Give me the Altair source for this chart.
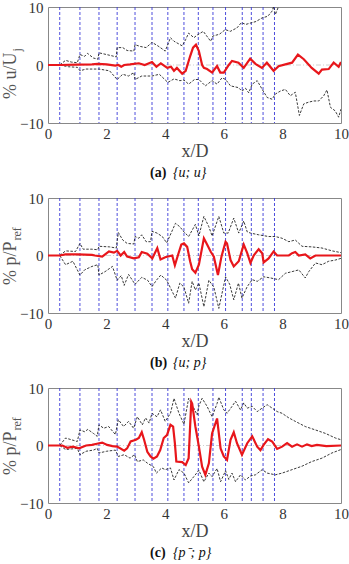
import altair as alt
import pandas as pd

SERIF = "Liberation Serif"

# vertical dashed markers (x/D)
vlines = [0.40, 1.09, 1.74, 2.36, 2.97, 3.55, 4.09, 4.64, 5.13, 5.63, 6.06, 6.63, 6.94, 7.34, 7.73]

# ---------------- panel (a) {u;u} ----------------
a_red_x = [0, 0.4, 1.0, 1.5, 1.7, 2.0, 2.3, 2.4, 2.5, 2.6, 2.8, 3.1, 3.3, 3.55, 3.7, 3.85, 4.07, 4.2, 4.3, 4.4,
           4.58, 4.7, 4.85, 4.95, 5.05, 5.15, 5.26, 5.32, 5.43, 5.6, 5.77, 5.88, 6.0, 6.17, 6.28, 6.5, 6.68, 6.9,
           7.08, 7.3, 7.47, 7.7, 7.87, 8.1, 8.33, 8.53, 8.73, 9.0, 9.24, 9.35, 9.58, 9.75, 9.92, 10.0]
a_red_y = [0, 0, 0.05, 0.1, 0.2, 0.1, -0.1, 0.0, -0.3, 0.0, 0.1, 0.3, 0.0, 0.5, -0.3, 0.3, -0.5, -0.3, -1.0, -0.5,
           -1.5, -1.0, 1.5, 3.0, 3.5, 2.4, 0.0, -0.5, -0.7, -1.3, -0.2, -1.3, -1.3, 0.0, 0.7, 0.4, -0.5, 1.1,
           0.2, -0.5, 0.4, -1.0, -0.2, 0.1, 0.4, 1.8, 1.0, -0.5, -1.5, -0.8, -0.7, 0.4, -0.3, 0.5]
a_up_x = [0, 0.4, 0.6, 0.8, 1.0, 1.09, 1.25, 1.35, 1.55, 1.7, 1.74, 2.0, 2.33, 2.36, 2.55, 2.7, 2.93, 2.97, 3.15,
          3.35, 3.55, 3.75, 4.0, 4.18, 4.3, 4.58, 4.7, 4.8, 4.98, 5.1, 5.3, 5.55, 5.63, 5.85, 6.05, 6.22, 6.45,
          6.6, 6.75, 7.1, 7.3, 7.5, 7.65, 7.7, 7.76, 7.87, 8.0]
a_up_y = [0, 0, 0.8, 0.5, 0.4, 1.8, 1.5, 2.0, 1.2, 1.0, 2.1, 1.8, 1.4, 3.0, 3.0, 2.5, 2.4, 3.5, 3.2,
          3.0, 3.9, 3.3, 2.4, 4.7, 4.1, 3.3, 4.4, 5.5, 4.7, 5.2, 5.8, 4.1, 5.0, 5.3, 6.1, 5.8, 6.4,
          7.3, 7.0, 7.5, 8.1, 8.4, 9.3, 10.1, 8.7, 10.1, 11.5]
a_lo_x = [0, 0.4, 0.7, 1.0, 1.09, 1.3, 1.7, 1.74, 2.1, 2.36, 2.55, 2.75, 2.93, 2.97, 3.2, 3.55, 3.8, 4.09, 4.3,
          4.5, 4.64, 4.8, 5.0, 5.15, 5.37, 5.6, 5.77, 5.94, 6.06, 6.23, 6.5, 6.62, 6.74, 6.85, 6.97, 7.14, 7.31,
          7.48, 7.65, 7.76, 7.93, 8.1, 8.27, 8.44, 8.58, 8.73, 8.9, 9.07, 9.24, 9.41, 9.52, 9.64, 9.8, 9.92, 10.0]
a_lo_y = [0, 0, -0.3, -0.4, -1.0, -0.7, -0.7, -0.7, -1.0, -2.5, -1.6, -1.9, -1.3, -2.5, -1.9, -1.9, -1.6, -3.0, -2.4,
          -2.7, -2.6, -3.3, -2.5, -2.5, -3.6, -2.7, -3.3, -2.2, -2.5, -3.6, -3.9, -4.5, -4.0, -4.8, -3.3, -2.7, -4.2,
          -5.6, -5.9, -5.0, -4.5, -4.2, -5.3, -4.7, -8.7, -6.7, -6.4, -6.2, -6.2, -5.3, -4.3, -7.3, -7.9, -9.0, -7.6]

# ---------------- panel (b) {u;p} ----------------
b_red_x = [0, 0.4, 0.6, 1.0, 1.5, 1.6, 1.85, 2.08, 2.25, 2.36, 2.48, 2.6, 2.7, 2.93, 3.1, 3.2, 3.39, 3.56, 3.73,
           3.84, 4.0, 4.24, 4.33, 4.45, 4.55, 4.64, 4.75, 4.85, 4.92, 5.03, 5.15, 5.32, 5.43, 5.55, 5.66, 5.8,
           5.92, 6.06, 6.11, 6.23, 6.34, 6.51, 6.68, 6.8, 6.91, 7.02, 7.19, 7.31, 7.36, 7.53, 7.7, 7.82, 7.99,
           8.22, 8.33, 8.44, 8.56, 8.78, 8.95, 9.13, 9.47, 10.0]
b_red_y = [0, 0, 0.2, 0.2, 0.1, 0.0, -0.2, 0.7, 0.5, 0.8, 0.0, 0.6, -0.2, -0.5, -0.3, 0.6, 0.3, -0.5, 1.3,
           -0.7, -0.3, 0.0, -1.7, 0.3, 1.9, 2.1, 1.5, -1.0, -2.4, -3.0, -1.6, 3.0, 1.9, 0.7, -0.2, -3.4,
           -0.2, 2.4, 2.1, -0.8, -1.9, -1.0, 1.9, 0.4, -1.3, 0.0, 1.1, 0.4, -1.2, -0.5, 0.7, 0.0, 0.0,
           0.0, 0.4, 0.6, 0.0, 0.2, -0.5, 0.0, 0.0, 0.0]
b_up_x = [0, 0.4, 0.6, 0.94, 1.09, 1.2, 1.5, 1.7, 1.74, 2.1, 2.33, 2.4, 2.55, 2.7, 2.93, 2.97, 3.1, 3.2, 3.35,
          3.5, 3.55, 3.72, 3.9, 4.05, 4.15, 4.35, 4.5, 4.64, 4.8, 5.03, 5.15, 5.32, 5.49, 5.6, 5.83, 6.0, 6.15,
          6.34, 6.51, 6.68, 6.8, 6.91, 7.19, 7.53, 7.76, 7.99, 8.22, 8.44, 8.67, 9.0, 9.35, 9.7, 10.0]
b_up_y = [0, 0, 0.8, 0.7, 2.1, 1.1, 1.1, 1.0, 1.6, 1.5, 1.3, 4.0, 2.7, 2.1, 2.0, 3.3, 3.0, 3.6, 2.4,
          2.4, 4.2, 3.9, 3.3, 2.2, 3.3, 5.6, 5.0, 4.1, 3.3, 5.4, 3.4, 6.8, 5.0, 3.4, 6.8, 3.9, 3.9,
          6.5, 3.9, 6.0, 4.1, 3.9, 3.6, 3.3, 3.3, 3.0, 2.4, 2.7, 1.6, 1.5, 1.3, 0.8, 0.5]
b_lo_x = [0, 0.4, 0.6, 0.85, 1.09, 1.25, 1.5, 1.7, 1.74, 1.95, 2.2, 2.36, 2.5, 2.6, 2.75, 2.97, 3.2, 3.4, 3.55,
          3.7, 3.85, 4.05, 4.35, 4.5, 4.64, 4.8, 4.92, 5.03, 5.15, 5.32, 5.49, 5.66, 5.83, 6.06, 6.2, 6.34,
          6.5, 6.62, 6.8, 6.97, 7.14, 7.36, 7.59, 7.87, 8.1, 8.33, 8.56, 8.78, 8.9, 9.13, 9.35, 9.58, 9.8, 10.0]
b_lo_y = [0, 0, -1.6, -1.0, -3.4, -2.5, -1.9, -1.6, -3.4, -2.8, -1.9, -4.3, -3.5, -5.2, -3.3, -5.0, -3.8, -4.3, -5.4,
          -4.3, -3.4, -4.3, -7.4, -4.8, -5.5, -8.3, -4.5, -6.0, -4.8, -8.9, -4.3, -5.5, -9.2, -3.7, -5.0, -7.7,
          -4.8, -7.4, -5.4, -4.2, -4.5, -3.7, -3.9, -4.2, -3.1, -2.8, -2.5, -3.9, -2.8, -1.3, -1.6, -1.0, -0.8, -0.5]

# ---------------- panel (c) {p-;p} ----------------
c_red_x = [0, 0.49, 0.66, 0.85, 1.06, 1.3, 1.5, 1.67, 1.85, 2.02, 2.2, 2.36, 2.6, 2.7, 2.82, 3.0, 3.1, 3.2, 3.28,
           3.39, 3.5, 3.6, 3.72, 3.83, 3.95, 4.06, 4.18, 4.27, 4.33, 4.38, 4.58, 4.7, 4.8, 4.89, 4.92, 5.03,
           5.15, 5.26, 5.37, 5.49, 5.6, 5.77, 5.89, 6.0, 6.11, 6.23, 6.34, 6.45, 6.62, 6.8, 6.97, 7.14, 7.25,
           7.36, 7.51, 7.65, 7.82, 7.99, 8.16, 8.33, 8.5, 8.67, 8.84, 9.0, 9.18, 9.5, 10.0]
c_red_y = [0, 0, -0.4, -0.2, -0.5, 0.0, 0.1, 0.3, 0.5, 0.1, -0.1, -0.2, -0.9, -0.5, 0.7, 1.0, 1.3, 2.3, 1.0,
           -1.1, -1.9, -2.3, -1.9, -0.8, 1.3, 1.8, 3.6, 3.3, 0.4, -2.8, -2.9, -3.4, -2.2, 7.6, 7.3, 3.3,
           -0.2, -3.7, -5.1, -3.1, 2.1, 4.7, -0.5, -1.9, -2.5, 1.0, 2.3, 0.4, -1.6, 0.4, 1.6, -0.2, -0.8,
           0.1, 1.1, 0.7, -0.6, -0.2, 0.4, -0.2, 0.2, -0.2, 0.2, -0.1, 0.1, -0.1, 0.0]
c_up_x = [0, 0.4, 0.6, 0.8, 1.0, 1.09, 1.25, 1.36, 1.55, 1.68, 1.74, 1.9, 2.07, 2.3, 2.4, 2.58, 2.75, 2.92, 3.05,
          3.22, 3.33, 3.45, 3.55, 3.72, 3.84, 4.0, 4.18, 4.3, 4.47, 4.64, 4.8, 4.98, 5.09, 5.15, 5.26, 5.43,
          5.6, 5.77, 5.83, 6.0, 6.11, 6.28, 6.4, 6.57, 6.68, 6.8, 6.97, 7.14, 7.31, 7.48, 7.65, 7.82, 7.99,
          8.22, 8.44, 8.78, 9.13, 9.47, 9.81, 10.0]
c_up_y = [0, 0, 1.3, 1.0, 0.7, 2.7, 2.4, 2.8, 2.1, 1.6, 3.6, 3.0, 3.3, 1.9, 4.5, 3.3, 4.2, 3.0, 5.0,
          3.6, 4.8, 3.9, 5.6, 5.0, 6.2, 4.2, 5.6, 8.2, 5.6, 3.7, 8.2, 6.5, 5.3, 6.9, 8.2, 6.8,
          5.0, 7.3, 8.4, 6.2, 5.6, 6.8, 7.7, 6.2, 7.4, 6.5, 6.8, 5.9, 6.5, 7.1, 6.5, 5.9, 5.6,
          4.8, 4.2, 3.3, 2.7, 2.1, 1.3, 1.0]
c_lo_x = [0, 0.4, 0.6, 0.8, 1.0, 1.09, 1.3, 1.55, 1.68, 1.74, 2.0, 2.3, 2.4, 2.6, 2.8, 2.95, 3.05, 3.25, 3.4,
          3.6, 3.7, 3.88, 4.0, 4.18, 4.3, 4.47, 4.64, 4.8, 4.98, 5.15, 5.32, 5.49, 5.6, 5.77, 5.89, 6.06,
          6.17, 6.28, 6.4, 6.57, 6.74, 6.91, 7.08, 7.31, 7.48, 7.76, 7.99, 8.33, 8.67, 9.0, 9.35, 9.69, 10.0]
c_lo_y = [0, 0, -0.7, -0.6, -0.5, -1.6, -1.0, -0.8, -0.5, -1.3, -1.0, -0.8, -1.9, -1.6, -2.2, -1.6, -2.8, -2.5, -3.1,
          -3.7, -4.8, -3.9, -4.2, -3.9, -6.0, -4.2, -4.8, -6.5, -5.4, -4.3, -6.3, -4.8, -5.4, -4.0, -6.3, -4.4,
          -5.9, -4.8, -6.3, -5.1, -6.0, -5.3, -5.1, -4.2, -4.8, -5.1, -4.8, -4.2, -3.6, -2.8, -2.2, -1.3, -0.7]

x_ticks = [0, 2, 4, 6, 8, 10]
y_ticks = [-10, 0, 10]


def env_df(ux, uy, lx, ly):
    return pd.concat([
        pd.DataFrame({"x": ux, "y": uy, "s": "upper"}),
        pd.DataFrame({"x": lx, "y": ly, "s": "lower"}),
    ], ignore_index=True)


def panel(red_x, red_y, up_x, up_y, lo_x, lo_y, ymain, ysub, title_bottom, letter, math, H):
    W = 293
    xs = alt.Scale(domain=[0, 10], nice=False, zero=False)
    ys = alt.Scale(domain=[-10, 10], nice=False, zero=False)
    xaxis = alt.Axis(values=x_ticks, title="x/D", grid=False, ticks=False, domain=False,
                     labelFont=SERIF, labelFontSize=15, labelColor="#333333", labelPadding=3,
                     labelFlush=False, labelOverlap=False, format="d",
                     titleFont=SERIF, titleFontSize=18, titleFontWeight="normal",
                     titleColor="#444444", titlePadding=1)
    yaxis = alt.Axis(values=y_ticks, title=None, grid=False, ticks=False, domain=False,
                     labelFont=SERIF, labelFontSize=15, labelColor="#333333", labelPadding=5,
                     labelFlush=False, labelOverlap=False, format="d")
    X = lambda: alt.X("x:Q", scale=xs, axis=xaxis)
    Y = lambda: alt.Y("y:Q", scale=ys, axis=yaxis)

    zero = alt.Chart(pd.DataFrame({"y": [0]})).mark_rule(
        color="#c4c4c4", strokeWidth=0.8, strokeDash=[5, 2, 1, 2]).encode(y=Y())
    vl = alt.Chart(pd.DataFrame({"x": vlines})).mark_rule(
        color="#3a3ad8", strokeWidth=0.9, strokeDash=[3, 2]).encode(x=X())
    env = alt.Chart(env_df(up_x, up_y, lo_x, lo_y)).mark_line(
        color="#222222", strokeWidth=0.9, strokeDash=[2.5, 1.5], clip=True).encode(
        x=X(), y=Y(), detail="s:N", order="x:Q")
    red = alt.Chart(pd.DataFrame({"x": red_x, "y": red_y})).mark_line(
        color="#e8161b", strokeWidth=2.2, clip=True).encode(x=X(), y=Y(), order="x:Q")

    one = pd.DataFrame({"k": [0]})
    main_w = 46.5 if ysub == "j" else 43.5
    ytxt = alt.Chart(one).mark_text(
        text=ymain, font=SERIF, fontSize=18, angle=270, align="left", baseline="middle",
        color="#555555").encode(x=alt.value(-37), y=alt.value(title_bottom))
    ysubt = alt.Chart(one).mark_text(
        text=ysub, font=SERIF, fontSize=12, angle=270, align="left", baseline="middle",
        color="#555555").encode(x=alt.value(-31), y=alt.value(title_bottom - main_w - 1))
    cap_left = 102
    cap1 = alt.Chart(one).mark_text(
        text=letter, font=SERIF, fontSize=14, fontWeight="bold", align="left", baseline="middle",
        color="#111111").encode(x=alt.value(cap_left), y=alt.value(H + 50))
    cap2 = alt.Chart(one).mark_text(
        text=math, font=SERIF, fontSize=14, fontStyle="italic", align="left", baseline="middle",
        color="#111111").encode(x=alt.value(cap_left + 23), y=alt.value(H + 50))

    return alt.layer(zero, vl, env, red, ytxt, ysubt, cap1, cap2).properties(width=W, height=H)


pa = panel(a_red_x, a_red_y, a_up_x, a_up_y, a_lo_x, a_lo_y, "% u/U", "j", 92, "(a)", "{u; u}", 116)
pb = panel(b_red_x, b_red_y, b_up_x, b_up_y, b_lo_x, b_lo_y, "% p/P", "ref", 87, "(b)", "{u; p}", 115)
pc = panel(c_red_x, c_red_y, c_up_x, c_up_y, c_lo_x, c_lo_y, "% p/P", "ref", 87, "(c)", "{p\u207b; p}", 115)

chart = alt.vconcat(pa, pb, pc, spacing=9).properties(
    padding={"left": 1, "top": -1, "right": 0, "bottom": 0},
    background="white",
).configure_view(stroke="#888888", strokeWidth=1)

chart.save("out.html", embed_options={"renderer": "svg", "actions": False})
